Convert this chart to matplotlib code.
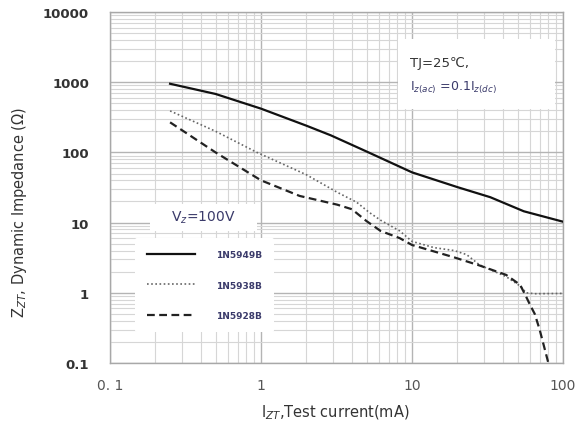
import numpy as np
import matplotlib
matplotlib.use("Agg")
import matplotlib.pyplot as plt
from matplotlib.patches import Rectangle

# data (current in mA, impedance in ohm)
i_5949 = [0.25, 0.5, 1, 2, 2.9, 5, 10, 20, 33, 55, 100]
z_5949 = [950, 680, 420, 240, 175, 103, 52, 32, 23, 14.5, 10.3]

i_5938 = [0.25, 0.5, 0.94, 2, 3.2, 4.3, 5.2, 6.2, 8.3, 10, 14, 19, 23, 28, 42, 52, 57, 65, 100]
z_5938 = [390, 200, 100, 48, 27, 19.5, 14, 10.8, 7.6, 5.4, 4.4, 4.0, 3.5, 2.5, 1.7, 1.25, 1.0, 0.97, 0.98]

i_5928 = [0.25, 0.5, 1, 1.8, 3.2, 4.0, 5.0, 6.2, 8.3, 10, 19, 28, 42, 52, 57, 61, 65, 70, 74, 80]
z_5928 = [268, 100, 40, 24, 18, 15.5, 10.5, 7.6, 6.0, 4.8, 3.2, 2.45, 1.8, 1.3, 0.88, 0.65, 0.5, 0.3, 0.19, 0.1]

labels = ["1N5949B", "1N5938B", "1N5928B"]
xticks = [0.1, 1, 10, 100]
xticklabels = ["0. 1", "1", "10", "100"]
yticks = [0.1, 1, 10, 100, 1000, 10000]
yticklabels = ["0.1", "1", "10", "100", "1000", "10000"]

fig = plt.figure(figsize=(5.88, 4.39), dpi=100)
ax = fig.add_axes([110/588, 1-364/439, 453/588, 351/439])
ax.set_xscale("log")
ax.set_yscale("log")
ax.set_xlim(0.1, 100)
ax.set_ylim(0.1, 10000)

ax.grid(True, which="major", color="#b4b4b4", lw=1.0)
ax.grid(True, which="minor", color="#d6d6d6", lw=0.8)
ax.set_axisbelow(True)
for s in ax.spines.values():
    s.set_color("#a8a8a8")
    s.set_linewidth(1.0)

ax.set_xticks(xticks, xticklabels)
ax.set_yticks(yticks, yticklabels)
ax.tick_params(which="both", length=0)
ax.tick_params(axis="x", pad=11, labelsize=10, labelcolor="#555555")
ax.tick_params(axis="y", pad=15, labelsize=9.5, labelcolor="#333333")
for t in ax.get_yticklabels():
    t.set_fontweight("semibold")

# white boxes covering the grid
ax.add_patch(Rectangle((40/453, (364-232)/351), 107/453, 27/351, transform=ax.transAxes,
                       facecolor="white", edgecolor="none", zorder=1.5))
ax.add_patch(Rectangle((288/453, (364-110)/351), 157/453, 70/351, transform=ax.transAxes,
                       facecolor="white", edgecolor="none", zorder=1.5))

l1, = ax.plot(i_5949, z_5949, color="#111111", lw=1.6, ls="-", zorder=3)
l2, = ax.plot(i_5938, z_5938, color="#666666", lw=1.2, ls=(0, (1, 1.5)), zorder=3)
l3, = ax.plot(i_5928, z_5928, color="#222222", lw=1.6, ls=(0, (3.5, 2)), zorder=3)

leg = ax.legend([l1, l2, l3], labels, loc="lower left",
                bbox_to_anchor=(25/453, 31/351), fontsize=6.5, frameon=True,
                handlelength=5.3, handletextpad=2.4, labelspacing=2.4,
                borderpad=1.3, borderaxespad=0)
leg.get_frame().set_facecolor("white")
leg.get_frame().set_edgecolor("none")
leg.get_frame().set_alpha(1)
for t in leg.get_texts():
    t.set_color("#3a3a6a")
    t.set_fontweight("bold")

ax.text(93/453, (364-218)/351, r"V$_z$=100V", transform=ax.transAxes,
        ha="center", va="center", fontsize=10, color="#3a3a6a", zorder=4)
ax.text(300/453, (364-63)/351, "TJ=25℃,", transform=ax.transAxes,
        ha="left", va="center", fontsize=9.5, color="#333333", zorder=4,
        family=["DejaVu Sans", "Noto Sans CJK SC"])
ax.text(300/453, (364-88)/351, r"I$_{z(ac)}$ =0.1I$_{z(dc)}$", transform=ax.transAxes,
        ha="left", va="center", fontsize=9, color="#3a3a6a", zorder=4)

fig.text(335/588, 1-413/439, r"I$_{ZT}$,Test current(mA)", ha="center", va="center",
         fontsize=10.5, color="#333333")
fig.text(20/588, 1-212/439, r"Z$_{ZT}$, Dynamic Impedance ($\Omega$)", ha="center",
         va="center", rotation=90, fontsize=10.5, color="#333333")

fig.savefig("out.png", dpi=100)
